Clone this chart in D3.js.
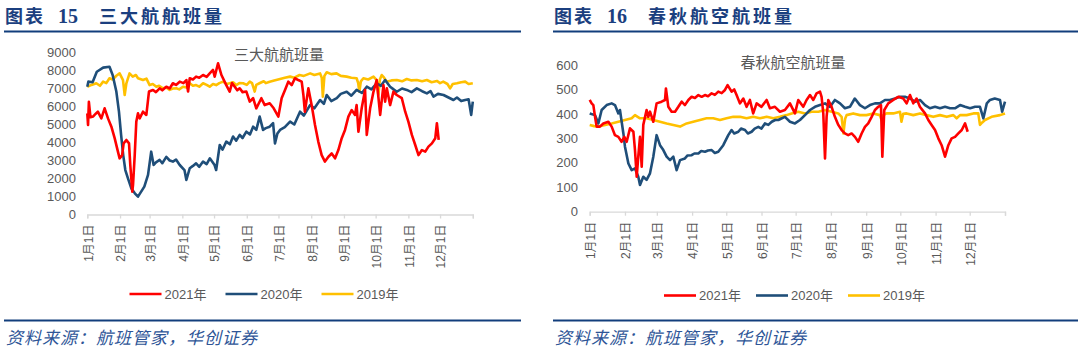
<!DOCTYPE html>
<html>
<head>
<meta charset="utf-8">
<script src="https://cdn.jsdelivr.net/npm/d3@7"></script>
<style>
  body { margin: 0; background: #fff; }
  svg { display: block; }
</style>
</head>
<body>
<div id="chart"></div>
<script>
// x = day of year (0 = 1月1日), y = 航班量
var monthDays = [0, 31, 59, 90, 120, 151, 181, 212, 243, 273, 304, 334];
var monthLabels = ["1月1日", "2月1日", "3月1日", "4月1日", "5月1日", "6月1日",
                   "7月1日", "8月1日", "9月1日", "10月1日", "11月1日", "12月1日"];
var seriesNames = ["2021年", "2020年", "2019年"];
var seriesColors = ["#FF0000", "#1F4E79", "#FFC000"];

// 图表15 三大航航班量
var big3Ticks = [0, 1000, 2000, 3000, 4000, 5000, 6000, 7000, 8000, 9000];
var big3_2021 = [[0,5620],[0.7,4970],[1.5,6260],[3,5400],[5.4,5440],[8,5600],[10,5710],[13.3,5340],[16.4,5900],[19.6,5340],[22.8,4880],[25.9,4240],[29,3490],[30.6,3120],[33,3300],[34.4,3950],[37,4140],[39.5,3950],[40.7,2750],[42.6,1270],[43.3,1640],[44.9,3300],[46.4,5160],[48,5620],[49.6,5340],[52.7,5710],[55.9,5530],[58.4,6830],[62.2,6920],[65,6800],[68.5,7010],[71,6900],[74.8,7100],[78,7000],[81,7290],[84,7200],[87.5,7380],[91,7300],[93.8,7470],[95.4,6830],[97,7570],[100,7500],[103,7660],[106,7600],[109.6,7750],[113,7650],[115.9,7840],[119,8030],[120.6,7660],[123.8,8400],[127,7750],[131.6,7190],[134.8,6830],[137,7300],[139.6,7100],[142,6900],[144.3,7010],[147,6800],[150.6,6830],[153.8,6270],[157,6460],[160,5900],[164.8,6460],[168,6080],[172.7,6180],[176.5,5900],[180.9,5440],[184,6460],[187.2,6920],[190.3,7380],[193.5,7190],[196.6,7570],[199.8,7470],[203,7380],[204.6,6640],[206,5710],[209.3,7010],[212.4,6080],[215.6,4970],[218.7,4050],[221.9,3300],[225,2940],[228.3,3210],[231.4,3390],[234.6,3120],[237.7,3580],[240.9,4240],[244,4700],[247.2,5440],[250.3,5800],[253.5,5530],[255,6080],[256.7,4600],[259.8,5900],[263,6920],[264.6,4420],[267.8,5900],[271,6830],[274,7470],[275.7,6460],[277.3,5530],[280.4,7190],[282,6270],[283.6,7010],[286.7,6080],[289.9,6830],[293,6640],[297.8,6460],[301,5710],[304,5160],[307.3,4420],[310.5,3860],[313.6,3300],[316.8,3580],[320,3490],[323,3770],[326.3,3950],[329.5,4240],[331,5070],[332.7,4140]];
var big3_2020 = [[0,7100],[1,7380],[5,7350],[9,7930],[15,8160],[21,8210],[24,7750],[27.5,6830],[30,5700],[32,4420],[34,3300],[36,2470],[38.5,2010],[41.7,1450],[45,1180],[48,990],[51,1270],[54,1550],[57.5,2200],[60.5,3490],[62.8,2750],[65,2900],[68.5,3030],[71,2850],[74.8,3200],[78,3000],[81,2940],[84,3050],[87.5,2750],[92,2470],[93.8,1920],[97,2570],[100,2700],[103,2840],[106,2650],[109.6,2940],[113,2800],[116,3120],[120.5,2750],[122,2470],[125.4,3860],[128,3600],[131.6,4050],[135,3900],[138,4330],[141,4100],[144.3,4420],[147,4250],[150.6,4600],[154,4450],[157,4880],[160,4700],[163.2,5440],[166.4,4700],[169,4800],[172.7,4880],[175.9,5070],[177.7,3950],[180,4500],[182.5,4700],[187,4850],[192,5160],[196,5000],[201.4,5710],[205,5500],[210.9,6080],[215,5900],[220.4,6360],[224,6150],[226.7,6640],[231,6300],[236.2,6460],[240,6700],[245.6,6820],[250,6600],[255,6920],[260,6750],[264.6,7100],[269,6950],[274,7290],[278,7150],[282,7470],[286.7,7100],[290,6950],[293,6820],[298,7000],[302.5,6920],[307,6800],[312,7010],[317,6850],[321.5,6730],[325,6850],[327.8,6550],[332,6700],[337.3,6640],[342,6500],[346.7,6360],[350,6500],[354,6300],[357.8,6360],[361,6400],[363.5,5530],[365,6270]];
var big3_2019 = [[0,7100],[4,7200],[8.5,7290],[12,7150],[15,7380],[18,7300],[21,7570],[24,7500],[27.5,7710],[30.6,7840],[33.8,7470],[35.4,6640],[37,7290],[40,7840],[43,7660],[46,7750],[48,7570],[52.7,7470],[56,7550],[59,7190],[62,7250],[65.4,7100],[68,7150],[71.7,7010],[75,7050],[78,6920],[81,7000],[84.3,7010],[87,6950],[90.6,7100],[94,7050],[97,7290],[100,7150],[103,7190],[106,7100],[109.6,7290],[113,7200],[115.9,7100],[119,7250],[122,7190],[125,7300],[128.5,7380],[132,7250],[134.8,7290],[138,7350],[141,7190],[144,7300],[147.5,7290],[151,7200],[153.8,7380],[156,7300],[158.5,6830],[160,7200],[163,7290],[167,7400],[169,7300],[172.7,7380],[177,7450],[182.5,7530],[187,7600],[192,7660],[196,7600],[201,7750],[205,7700],[211,7840],[215,7750],[220.4,7840],[222,7600],[223,6550],[224.5,7700],[226.7,7900],[231,7800],[236,7840],[240,7700],[245.6,7660],[250,7600],[255,7570],[256.5,7300],[257.6,6820],[259,7400],[261.4,7570],[266,7500],[271,7660],[274,7470],[275.6,6640],[277,7500],[278.8,7750],[281,7600],[283.5,7380],[288,7450],[293,7470],[298,7400],[302.5,7530],[307,7450],[312,7470],[317,7400],[321.5,7470],[326,7350],[331,7420],[334,7300],[337,7380],[341,7250],[343.5,7010],[346,7250],[350,7290],[354,7350],[357.8,7380],[361,7250],[365,7290]];

// 图表16 春秋航空航班量
var cqTicks = [0, 100, 200, 300, 400, 500, 600];
var cq_2021 = [[0,457],[1.7,443],[3.2,436],[4.7,388],[6.1,348],[9,348],[12,361],[16.4,368],[19.3,348],[22.2,313],[25.2,306],[28,286],[30.4,306],[32.5,286],[35.4,341],[38.4,327],[39.8,252],[41.3,143],[42.7,225],[44.2,306],[45.7,184],[47.1,355],[50,416],[51.5,388],[53,409],[55.9,368],[58.8,443],[63.2,450],[66.2,457],[67,504],[69.1,429],[72,409],[75,409],[77.9,429],[80.8,450],[83.7,436],[86.7,457],[89.6,470],[92.5,465],[95.5,477],[98.4,470],[101.3,477],[104,472],[107.2,484],[110,478],[113,491],[116,485],[118.9,498],[121.2,518],[124.7,491],[127,500],[129.1,477],[132,443],[135,463],[137.9,429],[140.8,457],[143.7,402],[146.7,443],[151,429],[155.5,457],[158.4,423],[162.8,429],[167.2,409],[171.6,416],[176,443],[180.4,402],[183.3,457],[187.7,429],[190.6,457],[193.6,477],[196.5,457],[199.4,484],[202.4,491],[203.8,470],[205.3,402],[206.8,218],[208.2,388],[209.7,457],[212.6,429],[215.5,388],[218.5,355],[221.4,334],[224.3,320],[227.2,313],[230.2,320],[233.1,306],[236,286],[239,320],[241.9,347],[244.8,361],[247.8,388],[250.7,416],[253.6,429],[256,436],[257.2,225],[258.9,416],[262.4,443],[266.8,457],[271.2,470],[275.6,463],[278.5,443],[281.5,477],[284.4,443],[287.3,463],[290.2,429],[294.7,402],[297.6,375],[300.5,355],[303.5,334],[306.4,300],[309.3,272],[312.3,225],[315.2,272],[318.1,300],[321.1,306],[324,320],[327,334],[329.9,361],[332.2,327]];
var cq_2020 = [[0,402],[4.7,395],[7.6,361],[10.5,416],[14.9,436],[19.3,443],[22.2,436],[25.2,402],[26.6,416],[29.6,320],[31,266],[34,197],[36.9,170],[39.8,177],[42.7,143],[44.2,109],[47.1,143],[50,130],[53,157],[55.9,225],[58.8,313],[61.8,272],[64.7,252],[67.6,225],[70.6,211],[73.5,225],[76.4,170],[79.4,211],[83.7,218],[86,230],[89.6,231],[92,238],[95.5,238],[98,248],[101.3,245],[104,250],[107.2,252],[110,240],[113,245],[117.4,272],[121.8,313],[124.7,334],[127,320],[130.6,327],[133,340],[136.5,334],[139,320],[142.3,327],[145,340],[148.2,347],[151,340],[154,361],[157,355],[160,368],[163,375],[165.8,375],[168,380],[171.6,388],[176,368],[180.4,361],[184.8,375],[189.2,395],[193.6,416],[198,429],[202.4,436],[206.8,443],[211.2,429],[215.5,457],[220,443],[224.3,423],[228.7,429],[233,463],[237.5,436],[241.9,423],[246.3,436],[250.7,443],[255,443],[259.5,457],[263.9,457],[268.3,463],[272.7,470],[277,470],[281.5,463],[285.9,450],[290.3,457],[294.7,436],[299,423],[303.5,429],[307.9,423],[312.3,429],[316.7,423],[321,423],[325.5,436],[329.9,429],[334.3,423],[338.7,429],[343,429],[346,382],[349,443],[351.8,457],[356,463],[360.6,457],[362.5,409],[365,450]];
var cq_2019 = [[0,355],[4,350],[7.6,348],[13.5,355],[19.3,361],[25.2,368],[31,375],[36.9,382],[39.8,395],[44.2,382],[50,382],[55.9,375],[61.8,368],[67.6,361],[73.5,355],[79.4,348],[85.2,361],[91,368],[96.9,375],[102.7,382],[108.6,382],[114.5,375],[120.3,382],[126.2,388],[132,388],[137.9,382],[143.7,388],[149.6,382],[155.5,388],[161.4,382],[167.2,388],[173,395],[177.5,402],[183.3,409],[189.2,402],[195,409],[201,409],[206.8,416],[212.7,409],[218.5,402],[221.4,388],[223,320],[224.5,380],[225.8,395],[231.6,402],[237.5,395],[243.3,395],[249.2,402],[255,395],[256.5,375],[258,395],[260.9,402],[266.8,402],[272.7,409],[274,368],[275.5,400],[278.5,402],[284.4,395],[290.3,402],[296,395],[302,388],[307.9,395],[313.8,388],[319.6,395],[322.5,382],[325.5,395],[331.3,395],[337.2,402],[341.5,402],[343,355],[345,365],[347.4,375],[353.2,388],[360.6,395],[365,402]];

var fontAxis = '"Liberation Sans", "Noto Sans CJK SC", sans-serif';
var fontCJK = '"Noto Sans CJK SC", "Liberation Sans", sans-serif';

var svg = d3.select("#chart").append("svg")
    .attr("width", 1080)
    .attr("height", 352);

function panel(p) {
    var g = svg.append("g");

    // header
    var head = g.append("text")
        .attr("y", 23)
        .attr("fill", "#1B3F7F")
        .attr("font-weight", "bold")
        .attr("font-size", 18)
        .attr("font-family", fontCJK);
    head.append("tspan").attr("x", p.left + 1).attr("letter-spacing", 2).text("图表");
    head.append("tspan").attr("x", p.left + 54).attr("font-family", '"Liberation Serif", serif').attr("font-size", 20).text(p.num);
    head.append("tspan").attr("x", p.left + 95).attr("letter-spacing", 3).text(p.title);

    g.append("line")
        .attr("x1", p.left).attr("x2", p.right)
        .attr("y1", 31.5).attr("y2", 31.5)
        .attr("stroke", "#123E7C").attr("stroke-width", 2.2);
    g.append("line")
        .attr("x1", p.left).attr("x2", p.right)
        .attr("y1", 320.5).attr("y2", 320.5)
        .attr("stroke", "#123E7C").attr("stroke-width", 2.2);
    g.append("text")
        .attr("x", p.left + 2).attr("y", 344)
        .attr("fill", "#2E5597")
        .attr("font-style", "italic")
        .attr("font-size", 17)
        .attr("letter-spacing", 1)
        .attr("font-family", fontCJK)
        .text("资料来源：航班管家，华创证券");

    // scales
    var x = d3.scaleLinear().domain([0, 365]).range([p.x0, p.x1]);
    var y = d3.scaleLinear().domain([0, p.ticks[p.ticks.length - 1]]).range([p.y0, p.yTop]);

    // y labels
    g.append("g").selectAll("text")
        .data(p.ticks)
        .join("text")
        .attr("x", p.labelX)
        .attr("y", d => y(d))
        .attr("dy", "0.36em")
        .attr("text-anchor", "end")
        .attr("fill", "#595959")
        .attr("font-size", 13)
        .attr("font-family", fontAxis)
        .text(d => d);

    // x axis
    var xa = g.append("g").attr("transform", "translate(0," + p.y0 + ")")
        .call(d3.axisBottom(x).tickValues(monthDays.concat([365])).tickSize(4).tickFormat(""));
    xa.select(".domain").attr("stroke", "#D9D9D9").attr("stroke-width", 1.3);
    xa.selectAll(".tick line").attr("stroke", "#D9D9D9").attr("stroke-width", 1.3);

    g.append("g").selectAll("text")
        .data(monthDays)
        .join("text")
        .attr("transform", (d, i) => "translate(" + (x(d) + 1) + "," + (p.y0 + 10) + ") rotate(-90)")
        .attr("dy", "0.36em")
        .attr("text-anchor", "end")
        .attr("fill", "#595959")
        .attr("font-size", 12)
        .attr("font-family", fontAxis)
        .text((d, i) => monthLabels[i]);

    // chart title
    g.append("text")
        .attr("x", p.ctX).attr("y", p.ctY)
        .attr("dy", "0.36em")
        .attr("text-anchor", "middle")
        .attr("fill", "#595959")
        .attr("font-size", 15)
        .attr("font-family", fontCJK)
        .text(p.chartTitle);

    // lines, yellow at the back, red on top
    var line = d3.line().x(d => x(d[0])).y(d => y(d[1]));
    var order = [2, 1, 0];
    order.forEach(function (i) {
        g.append("path")
            .datum(p.series[i])
            .attr("fill", "none")
            .attr("stroke", seriesColors[i])
            .attr("stroke-width", 2.6)
            .attr("stroke-linejoin", "round")
            .attr("d", line);
    });

    // legend
    var lg = g.append("g").selectAll("g")
        .data(seriesNames)
        .join("g")
        .attr("transform", (d, i) => "translate(" + (p.legX + i * p.legStep) + "," + p.legY + ")");
    lg.append("line")
        .attr("x1", 0).attr("x2", 32)
        .attr("stroke", (d, i) => seriesColors[i])
        .attr("stroke-width", 2.6);
    lg.append("text")
        .attr("x", 35)
        .attr("dy", "0.36em")
        .attr("fill", "#595959")
        .attr("font-size", 13)
        .attr("font-family", fontAxis)
        .text(d => d);
}

panel({
    left: 4, right: 521, num: "15", title: "三大航航班量",
    x0: 87.3, x1: 472.8, y0: 214.5, yTop: 52.5, labelX: 76,
    ticks: big3Ticks, chartTitle: "三大航航班量", ctX: 279, ctY: 55,
    series: [big3_2021, big3_2020, big3_2019],
    legX: 129.5, legStep: 96, legY: 294
});

panel({
    left: 553, right: 1078, num: "16", title: "春秋航空航班量",
    x0: 589.7, x1: 1005, y0: 211.7, yTop: 65, labelX: 578,
    ticks: cqTicks, chartTitle: "春秋航空航班量", ctX: 793, ctY: 63,
    series: [cq_2021, cq_2020, cq_2019],
    legX: 664, legStep: 92, legY: 295.5
});
</script>
</body>
</html>
